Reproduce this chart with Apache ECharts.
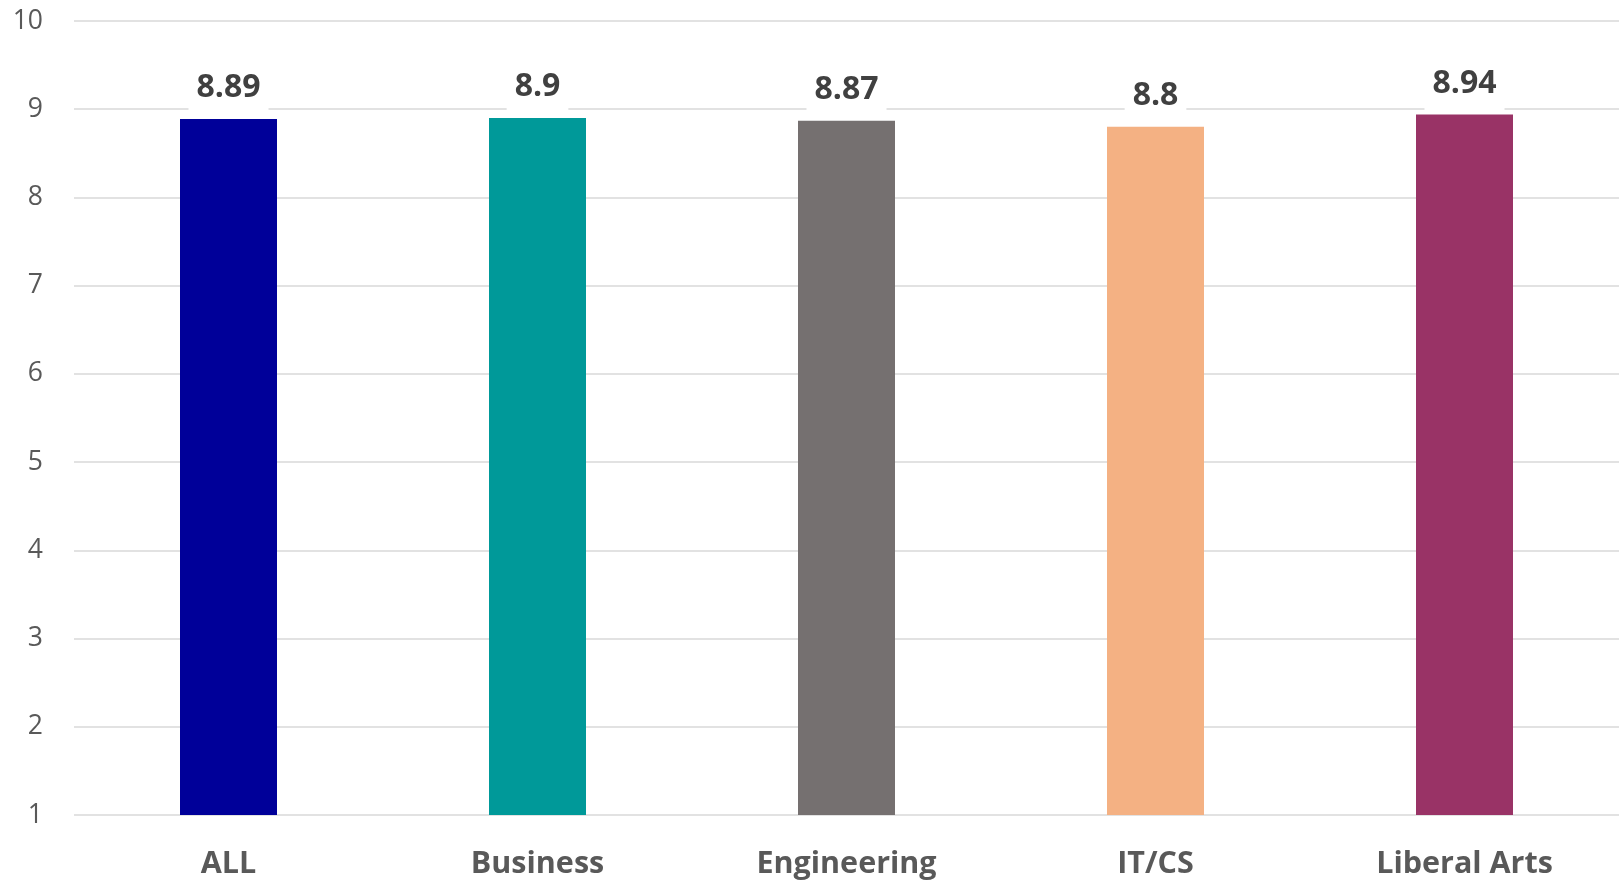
<!DOCTYPE html>
<html>
<head>
<meta charset="utf-8">
<script src="https://cdn.jsdelivr.net/npm/echarts@6/dist/echarts.min.js"></script>
<style>
html,body{margin:0;padding:0;background:#fff;}
#chart{width:1619px;height:882px;}
</style>
</head>
<body>
<div id="chart"></div>
<script>
const categories = ['ALL', 'Business', 'Engineering', 'IT/CS', 'Liberal Arts'];
const values = [8.89, 8.9, 8.87, 8.8, 8.94];
const barColors = ['#000099', '#009999', '#757070', '#F4B183', '#993366'];
const yTicks = [1, 10, 1]; // min, max, interval

const chart = echarts.init(document.getElementById('chart'));
chart.setOption({
  animation: false,
  grid: { left: 74, right: 0, top: 21, bottom: 67, containLabel: false },
  xAxis: {
    type: 'category',
    data: categories,
    axisLine: { show: false },
    axisTick: { show: false },
    axisLabel: {
      fontFamily: 'Open Sans', fontWeight: 'bold', fontSize: 30.5,
      color: '#595959', margin: 34
    }
  },
  yAxis: {
    type: 'value',
    min: yTicks[0], max: yTicks[1], interval: yTicks[2],
    axisLine: { show: false },
    axisTick: { show: false },
    axisLabel: { fontFamily: 'Open Sans', fontSize: 26.5, color: '#595959', margin: 31 },
    splitLine: { lineStyle: { color: '#d9d9d9', width: 1.5 } }
  },
  series: [{
    type: 'bar',
    data: values.map((v, i) => ({ value: v, itemStyle: { color: barColors[i] } })),
    barWidth: 97,
    label: {
      show: true, position: 'top', distance: 3,
      fontFamily: 'Open Sans', fontWeight: 'bold', fontSize: 32,
      color: '#404040', backgroundColor: '#ffffff',
      lineHeight: 36, padding: [10, 8, 10, 8]
    }
  }]
});
</script>
</body>
</html>
